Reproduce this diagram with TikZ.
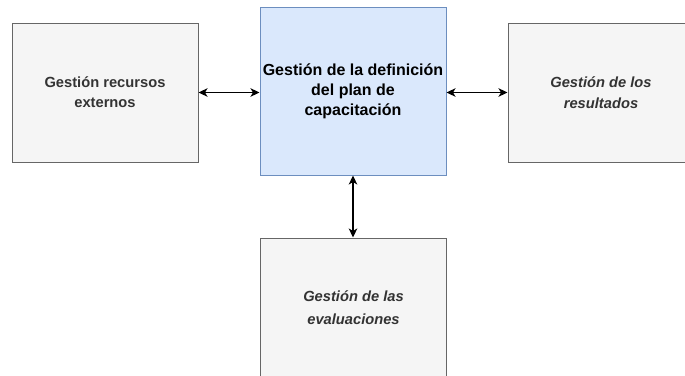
\documentclass[tikz,border=0pt]{standalone}
\usepackage{fontspec}
\setmainfont{Liberation Sans}
\usetikzlibrary{arrows.meta}
\definecolor{grayfill}{HTML}{F5F5F5}
\definecolor{graydraw}{HTML}{666666}
\definecolor{bluefill}{HTML}{DAE8FC}
\definecolor{bluedraw}{HTML}{6C8EBF}
\definecolor{txtgray}{HTML}{333333}
\tikzset{
  graybox/.style={draw=graydraw, fill=grayfill, line width=1pt, minimum width=186pt, minimum height=139pt, inner sep=0pt, align=center, text=txtgray, font=\fontsize{14.7}{20}\selectfont\bfseries},
  bluebox/.style={draw=bluedraw, fill=bluefill, line width=1pt, minimum width=186pt, minimum height=168pt, inner sep=0pt, align=center, text=black, font=\fontsize{16}{20}\selectfont\bfseries},
  biarrow/.style={line width=1.4pt, {Stealth[length=9pt,width=8.5pt,inset=2.5pt]}-{Stealth[length=9pt,width=8.5pt,inset=2.5pt]}}
}
\begin{document}
\begin{tikzpicture}[x=1pt,y=-1pt]
\useasboundingbox (0,0) rectangle (685,375);
\clip (0,0) rectangle (685,375);
\fill[white] (0,0) rectangle (685,375);
\node[graybox] (ext) at (105,92.5) {Gestión recursos\\externos};
\node[bluebox] (def) at (353,91) {Gestión de la definición\\del plan de\\capacitación};
\node[graybox, font=\fontsize{14.7}{21}\selectfont\bfseries\itshape] (res) at (601,92.5) {Gestión de los\\resultados};
\node[graybox, font=\fontsize{14.7}{23}\selectfont\bfseries\itshape] (eva) at (353.5,307.5) {Gestión de las\\evaluaciones};
\draw[biarrow] (ext.east) -- (ext.east -| def.west);
\draw[biarrow] (res.west -| def.east) -- (res.west);
\draw[biarrow] (def.south) -- (def.south |- eva.north);
\end{tikzpicture}
\end{document}
